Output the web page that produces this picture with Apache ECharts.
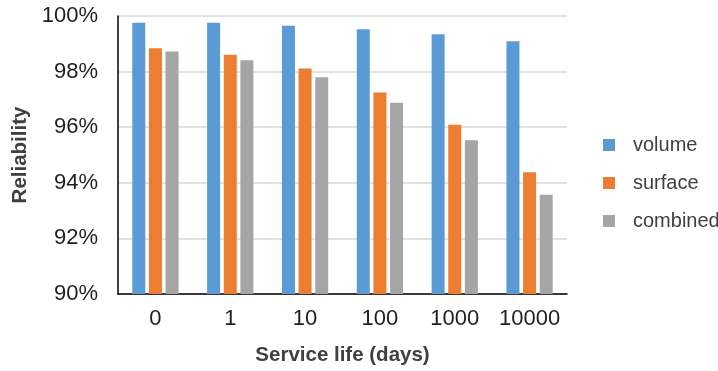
<!DOCTYPE html>
<html>
<head>
<meta charset="utf-8">
<script src="https://cdn.jsdelivr.net/npm/echarts@6/dist/echarts.min.js"></script>
<style>
  html, body { margin: 0; padding: 0; background: #ffffff; }
  #chart { width: 718px; height: 371px; }
</style>
</head>
<body>
<div id="chart"></div>
<script>
// Service life categories (days)
const categories = ['0', '1', '10', '100', '1000', '10000'];

// Reliability in percent for each failure mode
const volume   = [99.76, 99.76, 99.65, 99.52, 99.34, 99.09];
const surface  = [98.84, 98.61, 98.11, 97.25, 96.09, 94.38];
const combined = [98.72, 98.41, 97.80, 96.88, 95.53, 93.57];

// Y-axis range and step
const yMin = 90;
const yMax = 100;
const yStep = 2;

const seriesNames = ['volume', 'surface', 'combined'];
const seriesData = [volume, surface, combined];
const colors = ['#5B9BD5', '#ED7D31', '#A5A5A5'];

const chart = echarts.init(document.getElementById('chart'), null, { renderer: 'canvas' });

const fontFamily = 'Liberation Sans, Arial, sans-serif';

chart.setOption({
  animation: false,
  backgroundColor: '#ffffff',
  textStyle: { fontFamily: fontFamily },
  grid: { left: 118, right: 151, top: 16, bottom: 76, containLabel: false },
  legend: {
    orient: 'vertical',
    left: 598,
    top: 130,
    itemWidth: 12,
    itemHeight: 12,
    itemGap: 18,
    icon: 'rect',
    data: seriesNames,
    textStyle: {
      fontSize: 20,
      lineHeight: 20,
      color: '#404040',
      fontFamily: fontFamily,
      padding: [0, 0, 0, 13]
    }
  },
  xAxis: {
    type: 'category',
    data: categories,
    name: 'Service life (days)',
    nameLocation: 'middle',
    nameGap: 51,
    nameTextStyle: { fontSize: 20.5, fontWeight: 'bold', color: '#404040', fontFamily: fontFamily },
    axisLine: { show: true, lineStyle: { color: '#000000', width: 1.5 } },
    axisTick: { show: false },
    axisLabel: { interval: 0, fontSize: 22, color: '#1f1f1f', margin: 14, fontFamily: fontFamily }
  },
  yAxis: {
    type: 'value',
    min: yMin,
    max: yMax,
    interval: yStep,
    name: 'Reliability',
    nameLocation: 'middle',
    nameGap: 84,
    nameRotate: 90,
    nameTextStyle: { fontSize: 20.5, fontWeight: 'bold', color: '#404040', fontFamily: fontFamily },
    axisLine: { show: true, lineStyle: { color: '#000000', width: 1.5 } },
    axisTick: { show: false },
    axisLabel: { fontSize: 22, color: '#1f1f1f', margin: 20, formatter: '{value}%', fontFamily: fontFamily },
    splitLine: { show: true, lineStyle: { color: '#d9d9d9', width: 1.5 } }
  },
  series: seriesNames.map((name, i) => ({
    name: name,
    type: 'bar',
    data: seriesData[i],
    barWidth: 13,
    barGap: '28%',
    itemStyle: { color: colors[i] }
  }))
});
</script>
</body>
</html>
